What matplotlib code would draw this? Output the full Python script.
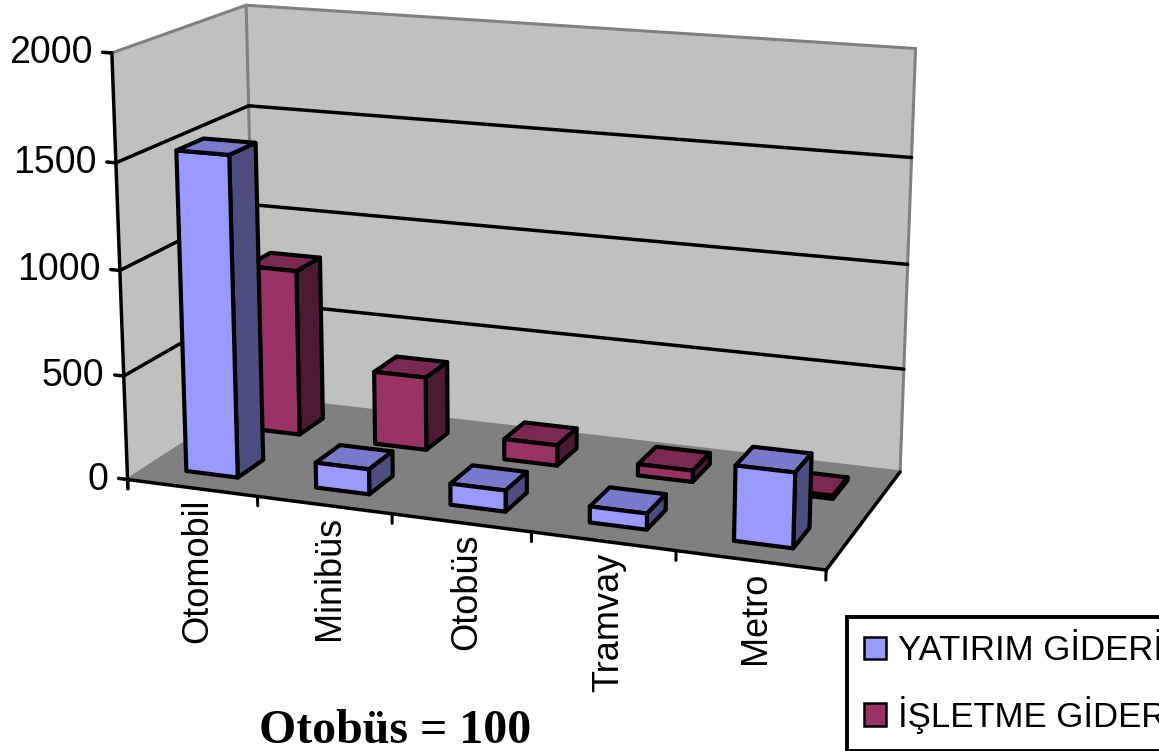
import matplotlib
matplotlib.use("Agg")
import numpy as np
import matplotlib.pyplot as plt
from matplotlib.patches import Patch
from mpl_toolkits.mplot3d import proj3d
from mpl_toolkits.mplot3d.art3d import Poly3DCollection

categories = ["Otomobil", "Minibüs", "Otobüs", "Tramvay", "Metro"]
series_names = ["YATIRIM GİDERİ", "İŞLETME GİDERİ"]
yatirim = [1530, 120, 100, 75, 345]
isletme = [820, 360, 100, 55, 15]
z_ticks = [0, 500, 1000, 1500, 2000]
note = "Otobüs = 100"

front_colors = ["#9999FF", "#993366"]
top_colors = ["#7A7ACC", "#7A2952"]
side_colors = ["#4D4D80", "#4D1A33"]

plt.rcParams["font.family"] = ["Liberation Sans", "DejaVu Sans"]

W, H = 1159, 751
fig = plt.figure(figsize=(W / 100, H / 100), dpi=100)
ax = fig.add_axes([0, 0, 1, 1], projection="3d", proj_type="persp", focal_length=0.6)
ax.computed_zorder = False
ax.set_axis_off()

n = len(categories)
ny = len(series_names)
zmax = z_ticks[-1]


def add_poly(verts, colors, zorder, ec="none", lw=0):
    pc = Poly3DCollection(verts, facecolors=colors, edgecolors=ec, linewidths=lw)
    ax.add_collection3d(pc)
    pc.set_zorder(zorder)
    pc.set_clip_on(False)


def add_line(p, q, color="black", lw=2.5, zorder=1):
    ax.plot([p[0], q[0]], [p[1], q[1]], [p[2], q[2]], color=color, lw=lw,
            zorder=zorder, clip_on=False, solid_capstyle="round")


# walls and floor
add_poly([[(0, 0, 0), (0, ny, 0), (0, ny, zmax), (0, 0, zmax)],
          [(0, ny, 0), (n, ny, 0), (n, ny, zmax), (0, ny, zmax)]], "#C0C0C0", 0)
add_poly([[(0, 0, 0), (n, 0, 0), (n, ny, 0), (0, ny, 0)]], "#808080", 0)

grey = "#808080"
for p, q in [((0, 0, zmax), (0, ny, zmax)), ((0, ny, zmax), (n, ny, zmax)),
             ((n, ny, 0), (n, ny, zmax)), ((0, ny, 0), (0, ny, zmax)),
             ((0, 0, 0), (0, ny, 0)), ((0, ny, 0), (n, ny, 0))]:
    add_line(p, q, grey, 2.2, 0.5)

for z in z_ticks[1:-1]:
    add_line((0, 0, z), (0, ny, z))
    add_line((0, ny, z), (n, ny, z))

add_line((0, 0, 0), (n, 0, 0), zorder=2)
add_line((n, 0, 0), (n, ny, 0), zorder=2)
add_line((0, 0, -45), (0, 0, zmax), zorder=30)

for z in z_ticks:
    add_line((-0.07, 0, z), (0, 0, z), zorder=30)
for k in range(n + 1):
    add_line((k, 0, 0), (k, 0, -45), lw=2.2, zorder=30)

# bars, back row first, left to right
rows = [yatirim, isletme]
for j in reversed(range(ny)):
    for i, v in enumerate(rows[j]):
        x0, x1 = i + 0.3, i + 0.7
        y0, y1 = j + 0.3, j + 0.7
        faces = [
            [(x0, y0, 0), (x1, y0, 0), (x1, y0, v), (x0, y0, v)],
            [(x1, y0, 0), (x1, y1, 0), (x1, y1, v), (x1, y0, v)],
            [(x0, y0, v), (x1, y0, v), (x1, y1, v), (x0, y1, v)],
        ]
        add_poly(faces, [front_colors[j], side_colors[j], top_colors[j]],
                 10 + (ny - 1 - j) * n + i, ec="black", lw=3)

ax.set_xlim(0, n)
ax.set_ylim(0, ny)
ax.set_zlim(0, zmax)
ax.set_box_aspect((730, 300, 440))
ax.view_init(elev=14.8, azim=-69.4)

fig.canvas.draw()
M = ax.get_proj()


def proj(x, y, z):
    px, py, _ = proj3d.proj_transform(x, y, z, M)
    return float(px), float(py)


# place the projected box where the frame sits in the picture
frame = [(0, 0, 0), (0, ny, 0), (n, 0, 0), (n, ny, 0), (0, 0, zmax), (0, ny, zmax), (n, ny, zmax)]
target = [(130, 480), (250, 405), (830, 570), (895, 470), (115, 50), (248, 5), (915, 45)]
bb = ax.get_position().transformed(fig.transFigure)
A, b = [], []
for (x, y, z), (tx, ty) in zip(frame, target):
    dx, dy = ax.transData.transform(proj(x, y, z))
    A += [[1, 0, (dx - bb.x0) / bb.width], [0, 1, (dy - bb.y0) / bb.height]]
    b += [tx, H - ty]
ox, oy, s = np.linalg.lstsq(np.array(A), np.array(b), rcond=None)[0]
ax.set_position([ox / W, oy / H, s / W, s / H])

# tick labels, anchored on the projected axis points
for z in z_ticks:
    ax.annotate(str(z), xy=proj(0, 0, z), xycoords="data", xytext=(-14, 0),
                textcoords="offset points", ha="right", va="center",
                fontsize=27, annotation_clip=False, zorder=40)
for i, cat in enumerate(categories):
    ax.annotate(cat, xy=proj(i + 0.5, 0, 0), xycoords="data", xytext=(4, -8),
                textcoords="offset points", rotation=90, ha="center", va="top",
                fontsize=26, annotation_clip=False, zorder=40)

handles = [Patch(facecolor=c, edgecolor="black", lw=1.8) for c in front_colors]
leg = fig.legend(handles, series_names, loc="upper left",
                 bbox_to_anchor=(847 / W, 1 - 617 / H), borderaxespad=0,
                 fontsize=25, handlelength=0.62, handleheight=0.62,
                 handletextpad=0.35, labelspacing=0.82, borderpad=0.5,
                 fancybox=False, framealpha=1, edgecolor="black")
leg.get_frame().set_linewidth(2.8)

fig.text(395 / W, (H - 743) / H, note, ha="center", va="baseline",
         fontsize=34.5, fontweight="bold", family="Liberation Serif")

fig.savefig("out.png", dpi=100)
